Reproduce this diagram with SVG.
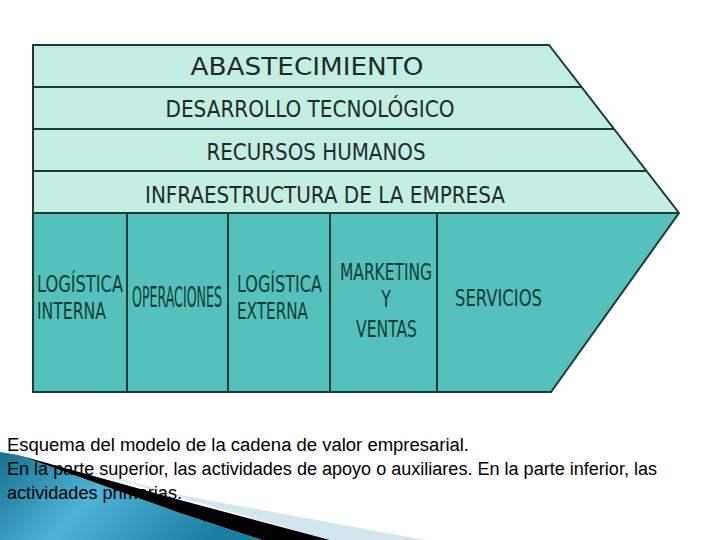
<svg xmlns="http://www.w3.org/2000/svg" width="720" height="540" viewBox="0 0 720 540">
<defs>
<linearGradient id="blue" x1="0" y1="0" x2="1" y2="0.3">
<stop offset="0" stop-color="#16708e"/>
<stop offset="0.45" stop-color="#4fb3d6"/>
<stop offset="1" stop-color="#1b7fa3"/>
</linearGradient>
<style>
.sup{fill:#c2efe2}
.pri{fill:#54c2ba}
.ln{stroke:#1c3a37;stroke-width:2;fill:none}
.t1{font-family:"DejaVu Sans","Verdana",sans-serif;font-size:25px;fill:#1f2b2b;text-anchor:middle}
.t2{font-family:"DejaVu Sans Condensed","DejaVu Sans",sans-serif;font-size:23px;fill:#1f2b2b;text-anchor:middle}
.t3{font-family:"DejaVu Sans Condensed","DejaVu Sans",sans-serif;font-size:17.5px;fill:#123c38}
.cap{font-family:"Liberation Sans",Arial,sans-serif;font-size:18px;fill:#000}
</style>
</defs>
<rect width="720" height="540" fill="#ffffff"/>
<g id="decor">
<polygon points="55,462 180,495 425,540 330,540" fill="#d3e6ee"/>
<polygon points="0,452 18,455 180,513 262,540 0,540" fill="url(#blue)"/>
<polygon points="18,455 180,500 330,540 262,540 180,513" fill="#000"/>
</g>
<g id="chain">
<polygon class="sup" points="33,45 549,45 679,213 33,213"/>
<polygon class="pri" points="33,213 679,213 551,392 33,392"/>
</g>
<g id="connectors">
<polygon class="ln" points="33,45 549,45 679,213 551,392 33,392"/>
<line class="ln" x1="33" y1="87" x2="581" y2="87"/>
<line class="ln" x1="33" y1="129" x2="614" y2="129"/>
<line class="ln" x1="33" y1="171" x2="646" y2="171"/>
<line class="ln" x1="33" y1="213" x2="679" y2="213" stroke-width="3"/>
<line class="ln" x1="127" y1="213" x2="127" y2="392"/>
<line class="ln" x1="228" y1="213" x2="228" y2="392"/>
<line class="ln" x1="330" y1="213" x2="330" y2="392"/>
<line class="ln" x1="437" y1="213" x2="437" y2="392"/>
</g>
<g id="abastecimiento"><text class="t1" x="307" y="75" textLength="233" lengthAdjust="spacingAndGlyphs">ABASTECIMIENTO</text></g>
<g id="desarrollo"><text class="t2" x="310" y="117" textLength="289" lengthAdjust="spacingAndGlyphs">DESARROLLO TECNOLÓGICO</text></g>
<g id="rrhh"><text class="t2" x="316" y="160" textLength="219" lengthAdjust="spacingAndGlyphs">RECURSOS HUMANOS</text></g>
<g id="infra"><text class="t2" x="325" y="203" textLength="360" lengthAdjust="spacingAndGlyphs">INFRAESTRUCTURA DE LA EMPRESA</text></g>
<g id="log-int">
<text class="t3" transform="translate(37,292) scale(1,1.3)" textLength="86" lengthAdjust="spacingAndGlyphs">LOGÍSTICA</text>
<text class="t3" transform="translate(37,319) scale(1,1.3)" textLength="69" lengthAdjust="spacingAndGlyphs">INTERNA</text>
</g>
<g id="operaciones"><text class="t3" transform="translate(132,307) scale(1,2)" style="font-size:14px" textLength="90" lengthAdjust="spacingAndGlyphs">OPERACIONES</text></g>
<g id="log-ext">
<text class="t3" transform="translate(237,292) scale(1,1.3)" textLength="85" lengthAdjust="spacingAndGlyphs">LOGÍSTICA</text>
<text class="t3" transform="translate(237,319) scale(1,1.3)" textLength="71" lengthAdjust="spacingAndGlyphs">EXTERNA</text>
</g>
<g id="marketing">
<text class="t3" transform="translate(340,280) scale(1,1.3)" textLength="92" lengthAdjust="spacingAndGlyphs">MARKETING</text>
<text class="t3" transform="translate(386,307) scale(1,1.3)" text-anchor="middle">Y</text>
<text class="t3" transform="translate(356,337) scale(1,1.3)" textLength="61" lengthAdjust="spacingAndGlyphs">VENTAS</text>
</g>
<g id="servicios"><text class="t3" transform="translate(455,306) scale(1,1.3)" textLength="87" lengthAdjust="spacingAndGlyphs">SERVICIOS</text></g>
<g id="caption">
<text class="cap" x="7" y="451" textLength="462" lengthAdjust="spacingAndGlyphs">Esquema del modelo de la cadena de valor empresarial.</text>
<text class="cap" x="7" y="475" textLength="650" lengthAdjust="spacingAndGlyphs">En la parte superior, las actividades de apoyo o auxiliares. En la parte inferior, las</text>
<text class="cap" x="7" y="499" textLength="175" lengthAdjust="spacingAndGlyphs">actividades primarias.</text>
</g>
</svg>
